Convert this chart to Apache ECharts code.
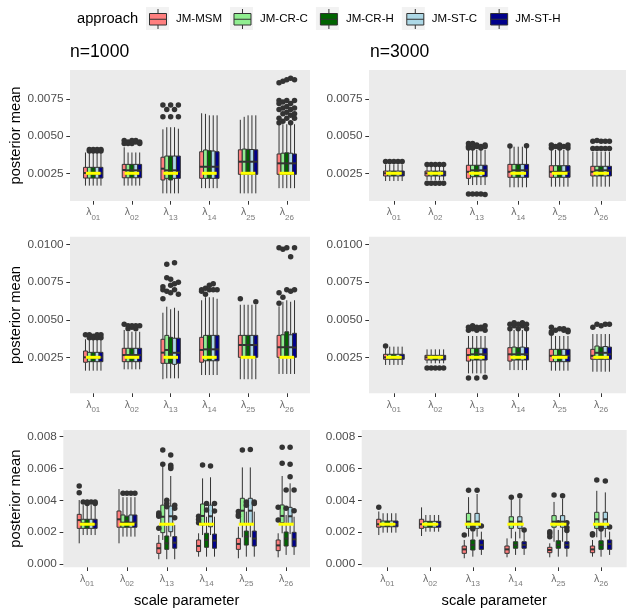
<!DOCTYPE html>
<html><head><meta charset="utf-8">
<script src="https://cdn.jsdelivr.net/npm/echarts@6.0.0/dist/echarts.min.js"></script>
<style>html,body{margin:0;padding:0;background:#fff}#c{width:635px;height:616px}</style>
</head><body><div id="c"></div><script>
// ---------- data ----------
const categories = ['01','02','13','14','25','26'];
const approaches = ['JM-MSM','JM-CR-C','JM-CR-H','JM-ST-C','JM-ST-H'];
const colors = ['#FF7F7F','#90EE90','#006400','#ADD8E6','#00008B'];
const trueValues = [0.0025,0.0025,0.0025,0.0025,0.0025,0.0025];

const yTicks_r1 = [0.0025,0.005,0.0075];
const yTicks_r2 = [0.0025,0.005,0.0075,0.01];
const yTicks_r3 = [0,0.002,0.004,0.006,0.008];
const yRange_r1 = [0.000636,0.00945];
const yRange_r2 = [0.000103,0.010533];
const yRange_r3 = [-0.000207,0.008421];

// boxes: [approach][category] = [min,q1,median,q3,max]
const boxes_n1000_r1 = [
 [[0.00167,0.00218,0.00252,0.0029,0.0039],[0.00167,0.0022,0.00272,0.0031,0.00425],[0.00115,0.00205,0.00281,0.00358,0.00546],[0.0015,0.00216,0.00294,0.00395,0.00654],[0.00115,0.00243,0.00328,0.00408,0.0061],[0.0015,0.00243,0.00317,0.0038,0.00575]],
 [[0.00167,0.00218,0.0025,0.0029,0.0039],[0.00167,0.0022,0.0027,0.0031,0.0039],[0.00115,0.00216,0.0027,0.00366,0.0056],[0.0015,0.00216,0.00294,0.00407,0.0065],[0.00115,0.00243,0.00328,0.00413,0.0063],[0.0015,0.00243,0.00317,0.00385,0.0058]],
 [[0.00167,0.00218,0.0025,0.0029,0.0039],[0.00167,0.0022,0.0027,0.0031,0.0039],[0.00115,0.00205,0.0026,0.00366,0.0056],[0.0015,0.00216,0.00294,0.00402,0.0064],[0.00115,0.00243,0.00328,0.00411,0.0064],[0.0015,0.00243,0.00317,0.00388,0.0058]],
 [[0.00167,0.00218,0.0025,0.0029,0.0039],[0.00167,0.0022,0.0027,0.0031,0.0039],[0.00115,0.00216,0.0027,0.00366,0.0056],[0.0015,0.00216,0.00294,0.004,0.0064],[0.00115,0.00243,0.00328,0.0041,0.0064],[0.0015,0.00243,0.00317,0.00385,0.0058]],
 [[0.00167,0.00218,0.0025,0.0029,0.0039],[0.00167,0.0022,0.0027,0.0031,0.0039],[0.00115,0.00216,0.0026,0.00366,0.0055],[0.0015,0.00216,0.00294,0.00395,0.0064],[0.00115,0.00243,0.00328,0.00408,0.0064],[0.0015,0.00243,0.00317,0.0038,0.0058]]
];
// outliers: [category, approach, value]
const outliers_n1000_r1 = [
 [0,1,0.0040],[0,1,0.0041],[0,2,0.0040],[0,2,0.0041],[0,3,0.0040],[0,3,0.0041],[0,4,0.0040],[0,4,0.0041],
 [1,0,0.0045],[1,0,0.0047],[1,1,0.0045],[1,1,0.0046],[1,2,0.0045],[1,2,0.0047],[1,3,0.0046],[1,3,0.0047],[1,4,0.0045],[1,4,0.0046],
 [2,0,0.0063],[2,0,0.0071],[2,1,0.0068],[2,2,0.0063],[2,2,0.0071],[2,3,0.0068],[2,4,0.0063],[2,4,0.0071],
 [5,0,0.0086],[5,0,0.0074],[5,0,0.0072],[5,0,0.0068],[5,0,0.0062],[5,0,0.0059],
 [5,1,0.0087],[5,1,0.0073],[5,1,0.0069],[5,1,0.0065],[5,1,0.0060],
 [5,2,0.0088],[5,2,0.0074],[5,2,0.0070],[5,2,0.0066],[5,2,0.0062],
 [5,3,0.0089],[5,3,0.0072],[5,3,0.0068],[5,3,0.0064],[5,3,0.0059],
 [5,4,0.0088],[5,4,0.0074],[5,4,0.0069],[5,4,0.0065],[5,4,0.0062]
];

const boxes_n3000_r1 = [
 [[0.00198,0.00232,0.0025,0.00265,0.0031],[0.00205,0.00232,0.0025,0.00265,0.00294],[0.00171,0.00216,0.0026,0.00304,0.00407],[0.00156,0.00223,0.0026,0.0031,0.00425],[0.0016,0.00223,0.0026,0.00301,0.00407],[0.0016,0.00232,0.0026,0.00297,0.00395]],
 [[0.00198,0.00232,0.0025,0.00265,0.0031],[0.00205,0.00232,0.0025,0.00265,0.00294],[0.00171,0.00227,0.0027,0.00304,0.00407],[0.00156,0.00223,0.0027,0.0031,0.00429],[0.0016,0.00223,0.0026,0.00301,0.00407],[0.0016,0.00232,0.0027,0.00297,0.00395]],
 [[0.00198,0.00232,0.0025,0.00265,0.0031],[0.00205,0.00232,0.0025,0.00265,0.00294],[0.00171,0.00227,0.0027,0.00304,0.00407],[0.00156,0.00223,0.0027,0.0031,0.00429],[0.0016,0.00223,0.0026,0.00301,0.00407],[0.0016,0.00232,0.0027,0.00297,0.00395]],
 [[0.00198,0.00232,0.0025,0.00265,0.0031],[0.00205,0.00232,0.0025,0.00265,0.00294],[0.00171,0.00227,0.0027,0.00304,0.00407],[0.00156,0.00223,0.0027,0.0031,0.00429],[0.0016,0.00223,0.0026,0.00301,0.00407],[0.0016,0.00232,0.0027,0.00297,0.00395]],
 [[0.00198,0.00232,0.0025,0.00265,0.0031],[0.00205,0.00232,0.0025,0.00265,0.00294],[0.00171,0.00227,0.0027,0.00304,0.00407],[0.00156,0.00223,0.0027,0.0031,0.00425],[0.0016,0.00223,0.0026,0.00301,0.00407],[0.0016,0.00232,0.0027,0.00297,0.00395]]
];
const outliers_n3000_r1 = [
 [0,0,0.0033],[0,1,0.0033],[0,2,0.0033],[0,3,0.0033],[0,4,0.0033],
 [1,0,0.0031],[1,1,0.0031],[1,2,0.0031],[1,3,0.0031],[1,4,0.0031],
 [1,0,0.00183],[1,1,0.00183],[1,2,0.00183],[1,3,0.00183],[1,4,0.00183],
 [2,0,0.0042],[2,0,0.0043],[2,0,0.0045],[2,1,0.0042],[2,1,0.0045],[2,2,0.0043],[2,2,0.0044],[2,3,0.0042],[2,3,0.0043],[2,4,0.0043],[2,4,0.0044],
 [2,0,0.0011],[2,1,0.0011],[2,2,0.0011],[2,3,0.0011],[2,4,0.00108],
 [3,0,0.00434],[3,4,0.00436],
 [4,0,0.0042],[4,0,0.0044],[4,1,0.0043],[4,2,0.0042],[4,2,0.0044],[4,3,0.0043],[4,4,0.0042],[4,4,0.0044],
 [5,0,0.00416],[5,0,0.00465],[5,1,0.00416],[5,1,0.0047],[5,2,0.00416],[5,2,0.00465],[5,3,0.00416],[5,3,0.00465],[5,4,0.00416],[5,4,0.00465]
];

const boxes_n1000_r2 = [
 [[0.00161,0.00217,0.0025,0.00292,0.0037],[0.0017,0.00221,0.00265,0.0031,0.00432],[0.00104,0.0021,0.00281,0.0037,0.00547],[0.00132,0.00217,0.00299,0.00383,0.0063],[0.00104,0.0025,0.00332,0.00396,0.006],[0.00139,0.0025,0.00317,0.00396,0.0059]],
 [[0.00161,0.00221,0.0025,0.00283,0.0037],[0.0017,0.00221,0.00265,0.0031,0.0042],[0.0011,0.0021,0.00299,0.00396,0.00587],[0.00132,0.00227,0.00303,0.00396,0.0065],[0.00104,0.0025,0.00332,0.00396,0.006],[0.00139,0.0025,0.00317,0.004,0.0062]],
 [[0.00161,0.00221,0.0025,0.00283,0.0037],[0.0017,0.00221,0.00265,0.0031,0.0042],[0.0011,0.0021,0.0027,0.00383,0.0057],[0.00132,0.00227,0.00303,0.00396,0.0065],[0.00104,0.0025,0.00332,0.00396,0.006],[0.00139,0.0025,0.0032,0.0042,0.0063]],
 [[0.00161,0.00221,0.0025,0.00283,0.0037],[0.0017,0.00221,0.00265,0.0031,0.0042],[0.0011,0.00203,0.0028,0.00377,0.0058],[0.00132,0.00227,0.00303,0.00396,0.0065],[0.00104,0.0025,0.00332,0.00396,0.006],[0.00139,0.0025,0.00317,0.004,0.0062]],
 [[0.00161,0.00221,0.0025,0.00283,0.0037],[0.0017,0.00221,0.00265,0.0031,0.0042],[0.0011,0.0021,0.0028,0.00377,0.0056],[0.00132,0.00227,0.00303,0.00396,0.0064],[0.00104,0.0025,0.00332,0.00396,0.006],[0.00139,0.0025,0.00315,0.0041,0.0063]]
];
const outliers_n1000_r2 = [
 [0,0,0.0040],[0,1,0.0038],[0,1,0.0040],[0,2,0.0038],[0,2,0.0039],[0,3,0.0038],[0,3,0.0040],[0,4,0.0038],[0,4,0.0040],
 [1,0,0.0047],[1,1,0.0044],[1,1,0.0046],[1,2,0.0045],[1,2,0.0046],[1,3,0.0044],[1,3,0.0046],[1,4,0.0046],
 [2,0,0.0064],[2,0,0.0070],[2,0,0.0072],[2,1,0.0087],[2,1,0.0078],[2,1,0.0069],[2,2,0.0077],[2,2,0.0073],[2,2,0.0068],[2,3,0.0088],[2,3,0.0074],[2,3,0.0070],[2,4,0.0075],[2,4,0.0067],
 [3,0,0.0070],[3,0,0.0069],[3,1,0.0071],[3,1,0.0067],[3,2,0.0073],[3,2,0.0070],[3,3,0.0074],[3,3,0.0070],[3,4,0.0070],
 [4,0,0.0064],[4,4,0.0062],
 [5,0,0.0098],[5,0,0.0068],[5,0,0.0061],[5,1,0.0097],[5,1,0.0065],[5,2,0.0098],[5,2,0.0070],[5,3,0.0092],[5,3,0.0069],[5,4,0.0098],[5,4,0.0070]
];

const boxes_n3000_r2 = [
 [[0.00199,0.00237,0.0025,0.0027,0.0031],[0.0021,0.00232,0.0025,0.00263,0.00303],[0.00143,0.00225,0.00265,0.0031,0.00392],[0.00165,0.00225,0.0027,0.00314,0.00432],[0.00161,0.00221,0.0026,0.00303,0.00392],[0.00154,0.00237,0.0026,0.00303,0.00405]],
 [[0.00199,0.00237,0.0025,0.0027,0.00321],[0.0021,0.00232,0.0025,0.00263,0.00303],[0.00143,0.00232,0.0027,0.0031,0.00392],[0.00165,0.00232,0.0027,0.00318,0.00432],[0.00161,0.00221,0.0026,0.00303,0.00392],[0.00154,0.00237,0.0028,0.00325,0.00405]],
 [[0.00199,0.00237,0.0025,0.0027,0.00321],[0.0021,0.00232,0.0025,0.00263,0.00303],[0.00143,0.00232,0.0028,0.0031,0.00392],[0.00165,0.00232,0.0028,0.00314,0.00432],[0.00161,0.00221,0.0026,0.00303,0.00392],[0.00154,0.00237,0.0028,0.00318,0.00405]],
 [[0.00199,0.00237,0.0025,0.0027,0.00321],[0.0021,0.00232,0.0025,0.00263,0.00303],[0.00143,0.00232,0.0027,0.0031,0.00392],[0.00165,0.00232,0.0027,0.00318,0.00432],[0.00161,0.00221,0.0026,0.00303,0.00392],[0.00154,0.00237,0.0028,0.00322,0.00405]],
 [[0.00199,0.00237,0.0025,0.0027,0.00321],[0.0021,0.00232,0.0025,0.00263,0.00303],[0.00143,0.00232,0.0027,0.0031,0.00392],[0.00165,0.00232,0.0027,0.00314,0.00432],[0.00161,0.00221,0.0026,0.00303,0.00392],[0.00154,0.00237,0.0027,0.00318,0.00405]]
];
const outliers_n3000_r2 = [
 [0,0,0.00325],
 [1,0,0.00179],[1,1,0.00179],[1,2,0.00179],[1,3,0.00179],[1,4,0.00179],
 [2,0,0.0043],[2,0,0.0045],[2,1,0.0044],[2,1,0.0046],[2,2,0.0043],[2,2,0.0045],[2,3,0.0044],[2,3,0.0045],[2,4,0.0043],[2,4,0.0046],
 [2,0,0.00112],[2,2,0.00112],[2,4,0.00118],
 [3,0,0.0044],[3,0,0.0047],[3,1,0.0046],[3,1,0.0048],[3,2,0.0044],[3,2,0.0047],[3,3,0.0046],[3,3,0.0048],[3,4,0.0044],[3,4,0.0047],
 [4,0,0.0041],[4,0,0.0042],[4,0,0.0045],[4,1,0.0043],[4,2,0.0044],[4,3,0.0043],[4,3,0.0044],[4,4,0.0042],[4,4,0.0043],
 [5,0,0.0045],[5,1,0.0047],[5,2,0.0046],[5,3,0.0047],[5,4,0.0047]
];

const boxes_n1000_r3 = [
 [[0.0013,0.00224,0.00276,0.00312,0.00402],[0.0013,0.00231,0.00281,0.00333,0.00471],[0.0003,0.00067,0.00099,0.0013,0.00182],[0.00046,0.00078,0.00113,0.00151,0.00193],[0.00036,0.00092,0.00126,0.00161,0.00234],[0.00042,0.00084,0.00117,0.00151,0.00193]],
 [[0.00182,0.00224,0.00255,0.00281,0.0037],[0.00172,0.00231,0.0026,0.00308,0.0042],[0.00151,0.00197,0.00297,0.0037,0.00633],[0.00182,0.00245,0.00302,0.00377,0.00538],[0.00168,0.00251,0.00335,0.00413,0.00607],[0.00193,0.00259,0.00302,0.00371,0.00553]],
 [[0.00182,0.00224,0.0025,0.00281,0.0037],[0.00172,0.00231,0.0027,0.003,0.0042],[0.0003,0.00092,0.0013,0.00176,0.00239],[0.00046,0.00105,0.00151,0.00193,0.00297],[0.00046,0.00119,0.00172,0.00207,0.00329],[0.00057,0.00113,0.0016,0.00201,0.00308]],
 [[0.00182,0.00224,0.0025,0.00281,0.0037],[0.00172,0.00231,0.0026,0.00308,0.0042],[0.00172,0.00203,0.003,0.00364,0.00553],[0.00182,0.00234,0.003,0.0037,0.00545],[0.00168,0.00251,0.00335,0.00413,0.00607],[0.00188,0.00251,0.003,0.00356,0.00507]],
 [[0.00182,0.00224,0.0025,0.00281,0.0037],[0.00172,0.00231,0.0026,0.00308,0.0042],[0.0003,0.00099,0.00134,0.00172,0.00245],[0.00046,0.00099,0.00147,0.00188,0.00297],[0.00046,0.00113,0.0016,0.00207,0.00329],[0.00057,0.00109,0.00155,0.00199,0.00297]]
];
const outliers_n1000_r3 = [
 [0,0,0.0049],[0,0,0.00448],[0,1,0.0039],[0,2,0.0038],[0,2,0.0039],[0,3,0.0039],[0,4,0.0038],[0,4,0.0039],
 [1,1,0.00445],[1,2,0.00445],[1,3,0.00445],[1,4,0.00445],
 [2,0,0.00224],[2,0,0.0030],[2,0,0.0031],[2,0,0.0032],[2,1,0.00716],[2,1,0.00627],[2,2,0.0040],[2,2,0.0038],[2,2,0.0036],
 [2,3,0.00685],[2,3,0.0062],[2,3,0.0061],[2,3,0.0060],[2,4,0.0037],[2,4,0.0035],[2,4,0.0029],
 [3,0,0.0030],[3,0,0.0028],[3,0,0.0026],[3,1,0.00622],[3,2,0.00381],[3,2,0.0034],[3,3,0.00616],[3,4,0.00381],[3,4,0.00333],
 [4,0,0.0033],[4,0,0.0031],[4,0,0.0030],[4,1,0.00716],[4,2,0.0039],[4,2,0.0037],[4,3,0.0072],[4,4,0.0039],[4,4,0.0038],
 [5,0,0.00356],[5,0,0.00276],[5,1,0.00733],[5,1,0.00633],[5,2,0.00465],[5,2,0.0035],[5,3,0.00733],[5,3,0.00627],[5,3,0.00549],[5,4,0.00465],[5,4,0.00335]
];

const boxes_n3000_r3 = [
 [[0.00182,0.00231,0.0025,0.00281,0.0033],[0.00176,0.00224,0.0025,0.00281,0.00356],[0.00036,0.00067,0.00092,0.00113,0.00151],[0.00042,0.00067,0.00092,0.00113,0.00161],[0.00042,0.00071,0.00088,0.00105,0.0013],[0.00046,0.00071,0.00092,0.00113,0.00151]],
 [[0.00197,0.00234,0.0025,0.0027,0.00319],[0.00203,0.00231,0.0025,0.00268,0.00308],[0.00172,0.00224,0.00266,0.00318,0.0042],[0.00161,0.00224,0.00266,0.00297,0.00402],[0.0014,0.00231,0.00266,0.00304,0.0039],[0.00168,0.00224,0.00281,0.00325,0.0046]],
 [[0.00197,0.00234,0.0025,0.0027,0.00319],[0.00203,0.00231,0.0025,0.00268,0.00308],[0.00046,0.00088,0.0012,0.00151,0.00203],[0.00057,0.00099,0.0012,0.0014,0.00203],[0.00046,0.00099,0.0012,0.00146,0.00214],[0.00046,0.00092,0.0012,0.00146,0.00214]],
 [[0.00197,0.00234,0.0025,0.0027,0.00319],[0.00203,0.00231,0.0025,0.00268,0.00308],[0.00172,0.00224,0.00266,0.00318,0.0044],[0.00161,0.00224,0.00266,0.00297,0.0041],[0.0014,0.00231,0.00266,0.00304,0.0041],[0.00168,0.00224,0.00281,0.00325,0.0045]],
 [[0.00197,0.00234,0.0025,0.0027,0.00319],[0.00203,0.00231,0.0025,0.00268,0.00308],[0.00057,0.00092,0.0012,0.00151,0.00203],[0.00057,0.00099,0.0012,0.0014,0.00203],[0.00046,0.00099,0.0012,0.0014,0.00214],[0.00057,0.00092,0.00126,0.00151,0.00203]]
];
const outliers_n3000_r3 = [
 [0,0,0.00356],
 [2,0,0.00182],[2,1,0.00463],[2,2,0.0022],[2,2,0.0023],[2,3,0.00463],[2,4,0.00239],
 [3,1,0.00419],[3,3,0.00429],[3,4,0.00214],
 [4,0,0.00172],[4,0,0.0019],[4,0,0.00203],[4,1,0.00434],[4,2,0.0026],[4,3,0.00429],[4,4,0.0021],[4,4,0.0023],[4,4,0.0026],
 [5,0,0.00182],[5,0,0.0019],[5,1,0.00528],[5,2,0.0022],[5,2,0.0023],[5,3,0.00521],[5,4,0.00233]
];

// ---------- layout / style ----------
const FONT = "'Liberation Sans', Arial, Helvetica, sans-serif";
const DODGE = 0.1, BOXW = 0.1, TRUE_HALF = 0.19;
const catIdx = categories.map((c, i) => i);

const panels = [
 {boxes: boxes_n1000_r1, outliers: outliers_n1000_r1, ticks: yTicks_r1, range: yRange_r1, dec: 4, rect: [70, 70, 240, 131], yName: true, yGap: 44, xName: false},
 {boxes: boxes_n3000_r1, outliers: outliers_n3000_r1, ticks: yTicks_r1, range: yRange_r1, dec: 4, rect: [369, 70, 257, 131], yName: false, xName: false},
 {boxes: boxes_n1000_r2, outliers: outliers_n1000_r2, ticks: yTicks_r2, range: yRange_r2, dec: 4, rect: [70, 236.7, 240, 156.6], yName: true, yGap: 44, xName: false},
 {boxes: boxes_n3000_r2, outliers: outliers_n3000_r2, ticks: yTicks_r2, range: yRange_r2, dec: 4, rect: [369, 236.7, 257, 156.6], yName: false, xName: false},
 {boxes: boxes_n1000_r3, outliers: outliers_n1000_r3, ticks: yTicks_r3, range: yRange_r3, dec: 3, rect: [63.3, 430, 246.7, 137.3], yName: true, yGap: 37.5, xName: true},
 {boxes: boxes_n3000_r3, outliers: outliers_n3000_r3, ticks: yTicks_r3, range: yRange_r3, dec: 3, rect: [361.7, 430, 265, 137.3], yName: false, xName: true}
];

function renderBox(params, api) {
  const cat = api.value(0), s = api.value(1);
  const x = cat + (s - 2) * DODGE;
  const w = api.size([BOXW, 0])[0];
  const pMin = api.coord([x, api.value(2)]);
  const pQ1 = api.coord([x, api.value(3)]);
  const pMed = api.coord([x, api.value(4)]);
  const pQ3 = api.coord([x, api.value(5)]);
  const pMax = api.coord([x, api.value(6)]);
  const fill = api.visual('color');
  return {type: 'group', children: [
    {type: 'line', shape: {x1: pMin[0], y1: pMin[1], x2: pQ1[0], y2: pQ1[1]}, style: {stroke: '#333333', lineWidth: 1}},
    {type: 'line', shape: {x1: pQ3[0], y1: pQ3[1], x2: pMax[0], y2: pMax[1]}, style: {stroke: '#333333', lineWidth: 1}},
    {type: 'rect', shape: {x: pQ1[0] - w / 2, y: pQ3[1], width: w, height: pQ1[1] - pQ3[1]}, style: {fill: fill, stroke: '#333333', lineWidth: 1}},
    {type: 'line', shape: {x1: pMed[0] - w / 2, y1: pMed[1], x2: pMed[0] + w / 2, y2: pMed[1]}, style: {stroke: '#333333', lineWidth: 2}}
  ]};
}
function renderTrue(params, api) {
  const c = api.value(0), v = api.value(1);
  const p1 = api.coord([c - TRUE_HALF, v]), p2 = api.coord([c + TRUE_HALF, v]);
  return {type: 'line', shape: {x1: p1[0], y1: p1[1], x2: p2[0], y2: p2[1]}, style: {stroke: '#FFFF00', lineWidth: 3}};
}

const grids = [], xAxes = [], yAxes = [], series = [];
panels.forEach((p, i) => {
  grids.push({left: p.rect[0], top: p.rect[1], width: p.rect[2], height: p.rect[3], show: true, backgroundColor: '#EBEBEB', borderWidth: 0});
  xAxes.push({
    type: 'value', gridIndex: i, min: -0.6, max: 5.6, position: 'bottom',
    splitLine: {show: false}, axisLine: {show: false, onZero: false},
    axisTick: {show: true, customValues: catIdx, length: 3.7, lineStyle: {color: '#333333', width: 1}},
    axisLabel: {
      customValues: catIdx, margin: 6,
      formatter: v => '{l|λ}{s|' + categories[Math.round(v)] + '}',
      rich: {
        l: {fontSize: 10.5, color: '#6b6b6b', fontFamily: FONT, padding: [0, 0, 3.5, 0], verticalAlign: 'bottom'},
        s: {fontSize: 8, color: '#7a7a7a', fontFamily: FONT, verticalAlign: 'bottom'}
      }
    },
    name: p.xName ? 'scale parameter' : '', nameLocation: 'middle', nameGap: 26,
    nameTextStyle: {fontSize: 14.7, color: '#000', fontFamily: FONT}
  });
  yAxes.push({
    type: 'value', gridIndex: i, min: p.range[0], max: p.range[1], position: 'left',
    splitLine: {show: false}, axisLine: {show: false, onZero: false},
    axisTick: {show: true, customValues: p.ticks, length: 3.7, lineStyle: {color: '#333333', width: 1}},
    axisLabel: {customValues: p.ticks, margin: 6.5, formatter: v => v.toFixed(p.dec), color: '#4D4D4D', fontSize: 11.8, fontFamily: FONT},
    name: p.yName ? 'posterior mean' : '', nameLocation: 'middle', nameGap: p.yGap || 40, nameRotate: 90,
    nameTextStyle: {fontSize: 14.7, color: '#000', fontFamily: FONT}
  });
  approaches.forEach((a, s) => {
    series.push({
      type: 'custom', name: a, xAxisIndex: i, yAxisIndex: i, silent: true, z: 2,
      itemStyle: {color: colors[s]}, renderItem: renderBox,
      encode: {x: 0, y: [2, 3, 4, 5, 6]},
      data: p.boxes[s].map((b, c) => [c, s].concat(b))
    });
  });
  series.push({
    type: 'scatter', name: 'outliers', xAxisIndex: i, yAxisIndex: i, silent: true, z: 3,
    symbolSize: 5.5, itemStyle: {color: '#333333', opacity: 1},
    data: p.outliers.map(o => [o[0] + (o[1] - 2) * DODGE, o[2]])
  });
  series.push({
    type: 'custom', name: 'true value', xAxisIndex: i, yAxisIndex: i, silent: true, z: 4,
    renderItem: renderTrue, encode: {x: 0, y: 1},
    data: trueValues.map((v, c) => [c, v])
  });
});

const KEY_PATH = 'path://M0,0M23,23M3,6L20,6L20,17.5L3,17.5ZM3,11.75L20,11.75M11.5,1.5L11.5,6M11.5,17.5L11.5,21.5';
const legendCommon = {left: 146, top: 7, itemWidth: 23, itemHeight: 23, itemGap: 8, padding: 0, selectedMode: false, orient: 'horizontal'};

const chart = echarts.init(document.getElementById('c'), null, {renderer: 'canvas'});
chart.setOption({
  animation: false,
  backgroundColor: '#ffffff',
  textStyle: {fontFamily: FONT},
  title: [
    {text: 'approach', left: 77, top: 11, padding: 0, textStyle: {fontSize: 14.7, fontWeight: 'normal', color: '#000', fontFamily: FONT}},
    {text: 'n=1000', left: 70, top: 43.5, padding: 0, textStyle: {fontSize: 17.6, fontWeight: 'normal', color: '#000', fontFamily: FONT}},
    {text: 'n=3000', left: 370, top: 43.5, padding: 0, textStyle: {fontSize: 17.6, fontWeight: 'normal', color: '#000', fontFamily: FONT}}
  ],
  legend: [
    Object.assign({}, legendCommon, {
      data: approaches.map(a => ({name: a})), icon: 'rect',
      itemStyle: {color: '#F2F2F2', borderWidth: 0},
      textStyle: {fontSize: 11.5, color: '#000', fontFamily: FONT, padding: [0, 0, 0, 2]}
    }),
    Object.assign({}, legendCommon, {
      z: 5,
      data: approaches.map((a, s) => ({name: a, icon: KEY_PATH, itemStyle: {color: colors[s], borderColor: '#333333', borderWidth: 1}})),
      textStyle: {fontSize: 11.5, color: 'rgba(0,0,0,0)', fontFamily: FONT, padding: [0, 0, 0, 2]}
    })
  ],
  grid: grids, xAxis: xAxes, yAxis: yAxes, series: series
});
</script></body></html>
